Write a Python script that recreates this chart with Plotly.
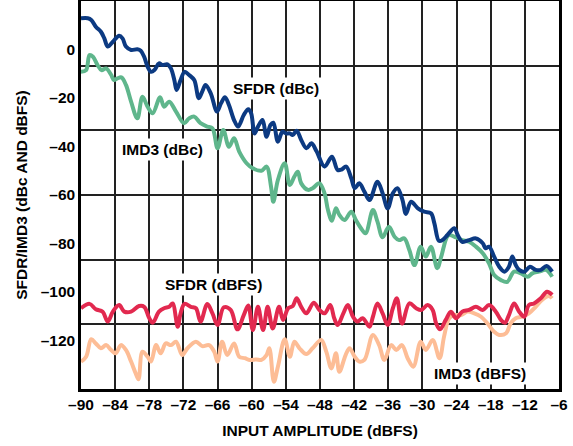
import plotly.graph_objects as go

# input amplitude (dBFS) / level (dB)
sfdr_dbc_x = [-90, -88.8, -88.2, -87.4, -86.5, -85.9, -85.3, -84.4, -83.3, -82.7, -82.1, -81.2,
              -80.1, -79.5, -78.9, -78.3, -77.7, -77.1, -76.3, -75.7, -74.8, -74.2, -73.6, -73.2,
              -72.5, -71.8, -71.0, -70.1, -69.3, -68.7, -68.1, -67.2, -66.1, -65.4, -64.7, -64.0,
              -63.1, -62.4, -61.4, -60.6, -60.1, -59.5, -58.9, -58.1, -57.4, -56.7, -56.2, -55.4,
              -54.6, -54.0, -53.3, -52.8, -52.1, -51.3, -50.4, -49.5, -48.6, -47.2, -45.9, -44.9,
              -44.2, -43.4, -42.5, -41.9, -41.1, -40.2, -39.3, -37.9, -37.0, -36.1, -35.2, -34.4,
              -33.5, -32.9, -32.0, -30.8, -29.7, -28.5, -27.9, -27.1, -26.5, -25.6, -24.4, -23.8,
              -23.0, -21.8, -20.6, -19.4, -18.9, -18.3, -17.4, -16.5, -15.6, -14.8, -14.2, -13.6,
              -13.0, -12.1, -11.1, -10.1, -9.2, -8.2, -7.2]
sfdr_dbc_y = [12.9, 12.9, 12.2, 9.4, 7.3, 4.6, 1.2, 3.2, 5.7, 4.6, 1.2, -0.2,
              0.1, -0.5, -3.0, -7.1, -9.2, -8.5, -5.7, -6.4, -6.1, -7.8, -12.6, -16.7,
              -12.6, -9.2, -10.5, -12.6, -20.1, -17.4, -14.6, -18.1, -25.6, -22.2, -19.7, -22.9,
              -29.1, -31.8, -27.0, -24.6, -26.3, -34.6, -31.8, -29.1, -36.0, -31.1, -30.2, -38.0,
              -33.9, -34.6, -34.6, -35.3, -33.5, -37.3, -40.7, -38.7, -42.0, -48.3, -44.2, -49.7,
              -49.5, -48.3, -53.1, -57.2, -55.2, -58.6, -62.1, -54.5, -59.3, -65.5, -59.3, -57.2,
              -62.1, -67.8, -62.8, -65.5, -66.9, -67.5, -71.7, -78.9, -78.6, -76.5, -73.7, -76.5,
              -79.3, -78.6, -77.9, -79.9, -82.0, -81.3, -85.4, -89.6, -91.6, -89.6, -85.4, -88.9,
              -90.9, -91.6, -89.6, -90.9, -90.9, -89.3, -91.6]

imd3_dbc_x = [-90, -89.1, -88.5, -87.9, -87.1, -86.4, -85.6, -84.7, -84.2, -83.6, -82.9, -82.1,
              -81.2, -80.1, -79.2, -78.3, -77.4, -76.1, -75.4, -74.5, -73.3, -71.9, -71.0, -70.1,
              -69.0, -67.8, -66.9, -66.0, -65.0, -64.0, -63.1, -62.2, -60.9, -59.8, -58.3, -57.4,
              -56.6, -56.2, -55.4, -54.2, -53.3, -52.5, -51.9, -51.3, -50.1, -49.3, -48.1, -47.2,
              -46.6, -45.9, -45.2, -44.6, -43.7, -42.5, -41.7, -40.8, -40.0, -38.7, -37.9, -37.0,
              -35.9, -34.9, -34.1, -33.2, -32.3, -31.4, -30.3, -29.4, -28.5, -27.4, -26.7, -25.4,
              -24.1, -23.0, -21.8, -20.6, -19.4, -18.3, -17.4, -16.2, -15.1, -13.9, -12.7, -11.5,
              -10.7, -9.5, -8.3, -7.2]
imd3_dbc_y = [-9.2, -8.5, -2.3, -3.0, -6.4, -8.5, -7.8, -10.5, -12.6, -11.9, -11.5, -14.6,
              -21.5, -28.4, -19.5, -23.6, -26.3, -19.7, -23.6, -21.5, -25.6, -30.4, -28.4, -27.7,
              -30.4, -31.8, -32.5, -40.7, -33.2, -40.1, -36.6, -42.1, -46.9, -49.0, -50.0, -48.3,
              -56.6, -62.8, -53.8, -46.9, -55.9, -52.4, -50.4, -55.2, -57.9, -57.2, -55.2, -59.3,
              -66.2, -70.6, -65.5, -68.2, -70.3, -66.9, -70.3, -73.7, -75.8, -66.2, -71.0, -77.4,
              -73.1, -77.2, -78.6, -77.9, -82.7, -88.9, -81.3, -85.4, -81.3, -90.2, -85.4, -76.6,
              -77.5, -78.6, -79.3, -81.3, -84.0, -88.2, -93.0, -95.1, -95.8, -91.6, -92.3, -93.7,
              -92.3, -91.6, -90.9, -93.7]

sfdr_dbfs_x = [-90, -88.5, -87.4, -86.2, -85.3, -84.4, -83.3, -82.4, -81.2, -79.8, -78.9, -78.0,
               -77.4, -76.3, -75.4, -74.5, -73.9, -73.0, -72.5, -71.8, -70.7, -69.8, -69.0, -67.8,
               -66.9, -66.0, -64.9, -63.7, -62.5, -61.4, -60.6, -59.8, -58.9, -58.0, -57.2, -56.3,
               -55.2, -54.5, -53.6, -52.8, -52.1, -51.3, -50.4, -49.1, -48.1, -47.2, -46.2, -45.5,
               -44.9, -43.9, -43.1, -42.2, -41.4, -40.5, -39.3, -38.7, -37.9, -37.0, -36.1, -35.2,
               -34.5, -33.6, -32.3, -31.1, -30.2, -29.1, -28.2, -27.6, -26.9, -25.9, -25.0, -24.1,
               -23.0, -21.8, -20.6, -19.4, -18.3, -17.1, -16.2, -15.5, -14.8, -13.9, -13.0, -12.1,
               -11.3, -10.4, -9.2, -8.1, -7.2]
sfdr_dbfs_y = [-106.7, -104.9, -107.1, -108.1, -112.2, -108.1, -105.4, -108.1, -108.1, -105.8, -106.1, -110.8,
               -112.7, -108.1, -106.7, -106.1, -104.7, -114.3, -108.8, -104.9, -106.1, -106.7, -112.2, -104.9,
               -108.8, -113.6, -106.3, -107.4, -115.4, -109.5, -105.6, -115.7, -106.1, -115.7, -106.1, -115.0,
               -106.1, -111.5, -106.7, -105.8, -102.6, -106.1, -108.8, -104.4, -107.4, -108.8, -105.4, -110.8,
               -113.6, -108.8, -105.4, -110.2, -112.2, -110.8, -114.3, -110.2, -104.7, -108.8, -113.6, -106.7,
               -102.6, -113.0, -104.7, -106.7, -107.4, -105.4, -107.4, -112.9, -115.4, -111.5, -108.1, -110.8,
               -108.1, -107.4, -106.1, -107.4, -105.4, -108.1, -111.5, -112.7, -109.5, -104.7, -108.1, -110.2,
               -105.4, -104.7, -102.6, -99.9, -101.2]

imd3_dbfs_x = [-90, -89.1, -88.2, -87.4, -86.5, -85.6, -84.7, -83.9, -83.0, -82.1, -81.2, -80.4,
               -79.9, -79.2, -78.3, -77.7, -76.8, -76.0, -75.1, -74.2, -73.3, -72.2, -71.3, -69.8,
               -68.7, -67.5, -66.6, -66.0, -65.2, -64.3, -63.1, -62.2, -61.2, -60.4, -59.2, -58.3,
               -57.4, -56.9, -56.1, -55.4, -54.2, -53.3, -52.5, -51.6, -50.4, -49.3, -47.8, -46.9,
               -46.0, -45.2, -44.6, -43.5, -42.8, -41.9, -41.1, -40.2, -38.7, -37.6, -36.7, -35.5,
               -34.6, -33.6, -32.6, -31.6, -30.3, -29.4, -28.2, -27.0, -26.2, -25.3, -24.4, -23.2,
               -22.1, -20.9, -19.7, -18.6, -17.4, -16.5, -15.3, -14.5, -13.6, -12.5, -11.3, -10.1,
               -9.0, -7.8, -7.2]
imd3_dbfs_y = [-128.7, -126.7, -119.5, -121.2, -123.2, -121.9, -123.9, -125.3, -121.9, -123.9, -128.7, -133.5,
               -136.0, -124.6, -126.7, -128.7, -121.9, -125.3, -121.2, -121.9, -120.5, -126.0, -123.2, -120.5,
               -122.3, -121.9, -124.6, -128.7, -120.5, -126.0, -121.2, -126.7, -127.3, -128.0, -127.8, -128.0,
               -126.0, -123.2, -137.0, -130.8, -119.5, -126.7, -120.5, -123.2, -125.6, -123.2, -119.8, -124.6,
               -131.5, -125.3, -132.9, -126.0, -123.2, -126.7, -128.7, -128.0, -117.7, -121.9, -128.0, -121.9,
               -123.9, -121.9, -127.3, -130.8, -120.5, -123.9, -119.8, -127.3, -118.4, -110.8, -109.5, -109.5,
               -108.1, -108.8, -110.2, -112.9, -116.4, -117.7, -117.0, -112.9, -110.8, -110.2, -108.8, -106.1,
               -103.3, -101.6, -102.6]

x_ticks = [-90, -84, -78, -72, -66, -60, -54, -48, -42, -36, -30, -24, -18, -12, -6]
x_ticktext = ['\u2013' + str(-v) for v in x_ticks]
y_ticks = [0, -20, -40, -60, -80, -100, -120]
y_ticktext = ['0'] + ['\u2013' + str(-v) for v in y_ticks[1:]]

series = [
    ('SFDR (dBc)', sfdr_dbc_x, sfdr_dbc_y, '#0c3a82'),
    ('IMD3 (dBc)', imd3_dbc_x, imd3_dbc_y, '#5fb68c'),
    ('SFDR (dBFS)', sfdr_dbfs_x, sfdr_dbfs_y, '#e2294f'),
    ('IMD3 (dBFS)', imd3_dbfs_x, imd3_dbfs_y, '#fdbd96'),
]

FONT = 'Liberation Sans, Arial, sans-serif'
bold = dict(family=FONT, size=15.5, color='black', weight='bold')

fig = go.Figure()
# keep the lighter curves underneath, as in the original
for name, x, y, color in series[::-1]:
    fig.add_trace(go.Scatter(
        x=x, y=y, name=name, mode='lines',
        line=dict(color=color, width=4, shape='spline', smoothing=1.0),
        showlegend=False, hoverinfo='x+y+name',
    ))

labels = [
    ('SFDR (dBc)', -55.8, -15.9),
    ('IMD3 (dBc)', -75.7, -41.4),
    ('SFDR (dBFS)', -66.7, -97.1),
    ('IMD3 (dBFS)', -19.85, -133.4),
]
for text, ax, ay in labels:
    fig.add_annotation(x=ax, y=ay, text=text, showarrow=False, font=bold,
                       bgcolor='white', borderpad=2)

fig.update_layout(
    width=573, height=446,
    margin=dict(l=81, r=14, t=1, b=57, autoexpand=False),
    plot_bgcolor='white', paper_bgcolor='white',
    xaxis=dict(
        range=[-90, -6], tickmode='array', tickvals=x_ticks, ticktext=x_ticktext,
        tickfont=bold, ticks='', showgrid=True, gridcolor='#222', gridwidth=1.5,
        zeroline=False, showline=True, linecolor='black', linewidth=2.5, mirror=True,
        automargin=False,
        title=dict(text='INPUT AMPLITUDE (dBFS)', font=bold, standoff=13),
    ),
    yaxis=dict(
        range=[-140, 20], tickmode='array', tickvals=y_ticks, ticktext=y_ticktext,
        tickfont=bold, ticks='', showgrid=False, zeroline=False,
        showline=True, linecolor='black', linewidth=2.5, mirror=True,
        automargin=False,
        title=dict(text='SFDR/IMD3 (dBc AND dBFS)', font=bold, standoff=10),
    ),
    # the horizontal grid divides the frame into 6 equal bands, independent of the labels
    yaxis2=dict(
        range=[-140, 20], overlaying='y', tickmode='linear', tick0=-140, dtick=160 / 6,
        showticklabels=False, ticks='', showgrid=True, gridcolor='#222', gridwidth=1.5,
        zeroline=False, automargin=False,
    ),
)
fig.add_trace(go.Scatter(x=[-90], y=[-140], yaxis='y2', mode='markers',
                         marker=dict(opacity=0), showlegend=False, hoverinfo='skip'))

# the page body has a default 8px margin; drop it so the figure fills the window
fig.write_html("out.html", config={'displayModeBar': False},
               post_script="document.body.style.margin='0';")
